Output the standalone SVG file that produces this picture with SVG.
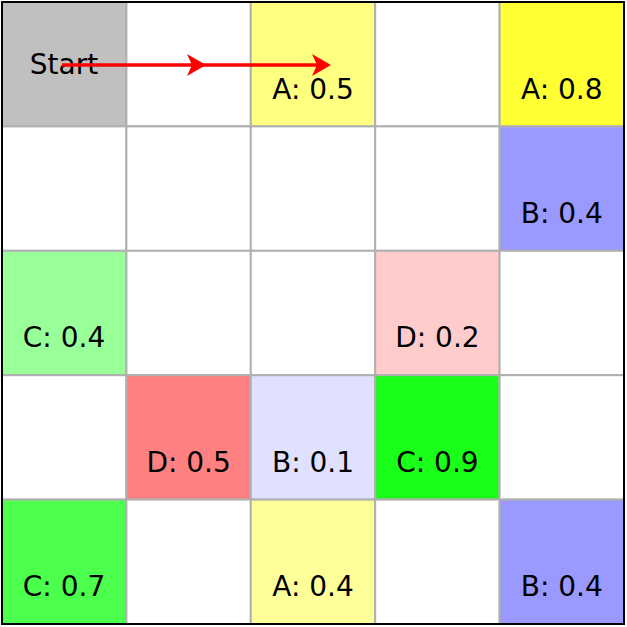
<svg xmlns="http://www.w3.org/2000/svg" width="627" height="627" viewBox="0 0 627 627">
<defs>
<style>
.c{stroke:#b0b0b0;stroke-width:2}
.t{font-family:"DejaVu Sans",sans-serif;font-size:28px;fill:#000;text-anchor:middle}
.a{stroke:#ff0000;stroke-width:3.5;fill:none}
.h{fill:#ff0000}
</style>
</defs>
<rect x="0" y="0" width="627" height="627" fill="#fff"/>
<g id="cells">
<g id="c00"><rect class="c" x="2" y="2" width="124.4" height="124.4" fill="#c0c0c0"/><text class="t" x="64" y="73.5">Start</text></g>
<g id="c01"><rect class="c" x="126.4" y="2" width="124.4" height="124.4" fill="#fff"/></g>
<g id="c02"><rect class="c" x="250.8" y="2" width="124.4" height="124.4" fill="#ffff80"/><text class="t" x="313" y="98.5">A: 0.5</text></g>
<g id="c03"><rect class="c" x="375.2" y="2" width="124.4" height="124.4" fill="#fff"/></g>
<g id="c04"><rect class="c" x="499.6" y="2" width="124.4" height="124.4" fill="#ffff33"/><text class="t" x="561.8" y="98.5">A: 0.8</text></g>

<g id="c10"><rect class="c" x="2" y="126.4" width="124.4" height="124.4" fill="#fff"/></g>
<g id="c11"><rect class="c" x="126.4" y="126.4" width="124.4" height="124.4" fill="#fff"/></g>
<g id="c12"><rect class="c" x="250.8" y="126.4" width="124.4" height="124.4" fill="#fff"/></g>
<g id="c13"><rect class="c" x="375.2" y="126.4" width="124.4" height="124.4" fill="#fff"/></g>
<g id="c14"><rect class="c" x="499.6" y="126.4" width="124.4" height="124.4" fill="#9999ff"/><text class="t" x="561.8" y="222.9">B: 0.4</text></g>

<g id="c20"><rect class="c" x="2" y="250.8" width="124.4" height="124.4" fill="#99ff99"/><text class="t" x="64" y="347.3">C: 0.4</text></g>
<g id="c21"><rect class="c" x="126.4" y="250.8" width="124.4" height="124.4" fill="#fff"/></g>
<g id="c22"><rect class="c" x="250.8" y="250.8" width="124.4" height="124.4" fill="#fff"/></g>
<g id="c23"><rect class="c" x="375.2" y="250.8" width="124.4" height="124.4" fill="#ffcccc"/><text class="t" x="437.4" y="347.3">D: 0.2</text></g>
<g id="c24"><rect class="c" x="499.6" y="250.8" width="124.4" height="124.4" fill="#fff"/></g>

<g id="c30"><rect class="c" x="2" y="375.2" width="124.4" height="124.4" fill="#fff"/></g>
<g id="c31"><rect class="c" x="126.4" y="375.2" width="124.4" height="124.4" fill="#ff8080"/><text class="t" x="188.6" y="471.7">D: 0.5</text></g>
<g id="c32"><rect class="c" x="250.8" y="375.2" width="124.4" height="124.4" fill="#e0e0ff"/><text class="t" x="313" y="471.7">B: 0.1</text></g>
<g id="c33"><rect class="c" x="375.2" y="375.2" width="124.4" height="124.4" fill="#1aff1a"/><text class="t" x="437.4" y="471.7">C: 0.9</text></g>
<g id="c34"><rect class="c" x="499.6" y="375.2" width="124.4" height="124.4" fill="#fff"/></g>

<g id="c40"><rect class="c" x="2" y="499.6" width="124.4" height="124.4" fill="#4dff4d"/><text class="t" x="64" y="596.1">C: 0.7</text></g>
<g id="c41"><rect class="c" x="126.4" y="499.6" width="124.4" height="124.4" fill="#fff"/></g>
<g id="c42"><rect class="c" x="250.8" y="499.6" width="124.4" height="124.4" fill="#ffff99"/><text class="t" x="313" y="596.1">A: 0.4</text></g>
<g id="c43"><rect class="c" x="375.2" y="499.6" width="124.4" height="124.4" fill="#fff"/></g>
<g id="c44"><rect class="c" x="499.6" y="499.6" width="124.4" height="124.4" fill="#9999ff"/><text class="t" x="561.8" y="596.1">B: 0.4</text></g>
</g>
<rect x="2" y="2" width="622" height="622" fill="none" stroke="#000" stroke-width="2"/>
<g id="connectors">
<line class="a" x1="62" y1="65" x2="200" y2="65"/>
<path class="h" d="M187,54 L206,65 L187,76 L192,65 Z"/>
<line class="a" x1="200" y1="65" x2="326" y2="65"/>
<path class="h" d="M312,54 L331,65 L312,76 L317,65 Z"/>
</g>
</svg>
